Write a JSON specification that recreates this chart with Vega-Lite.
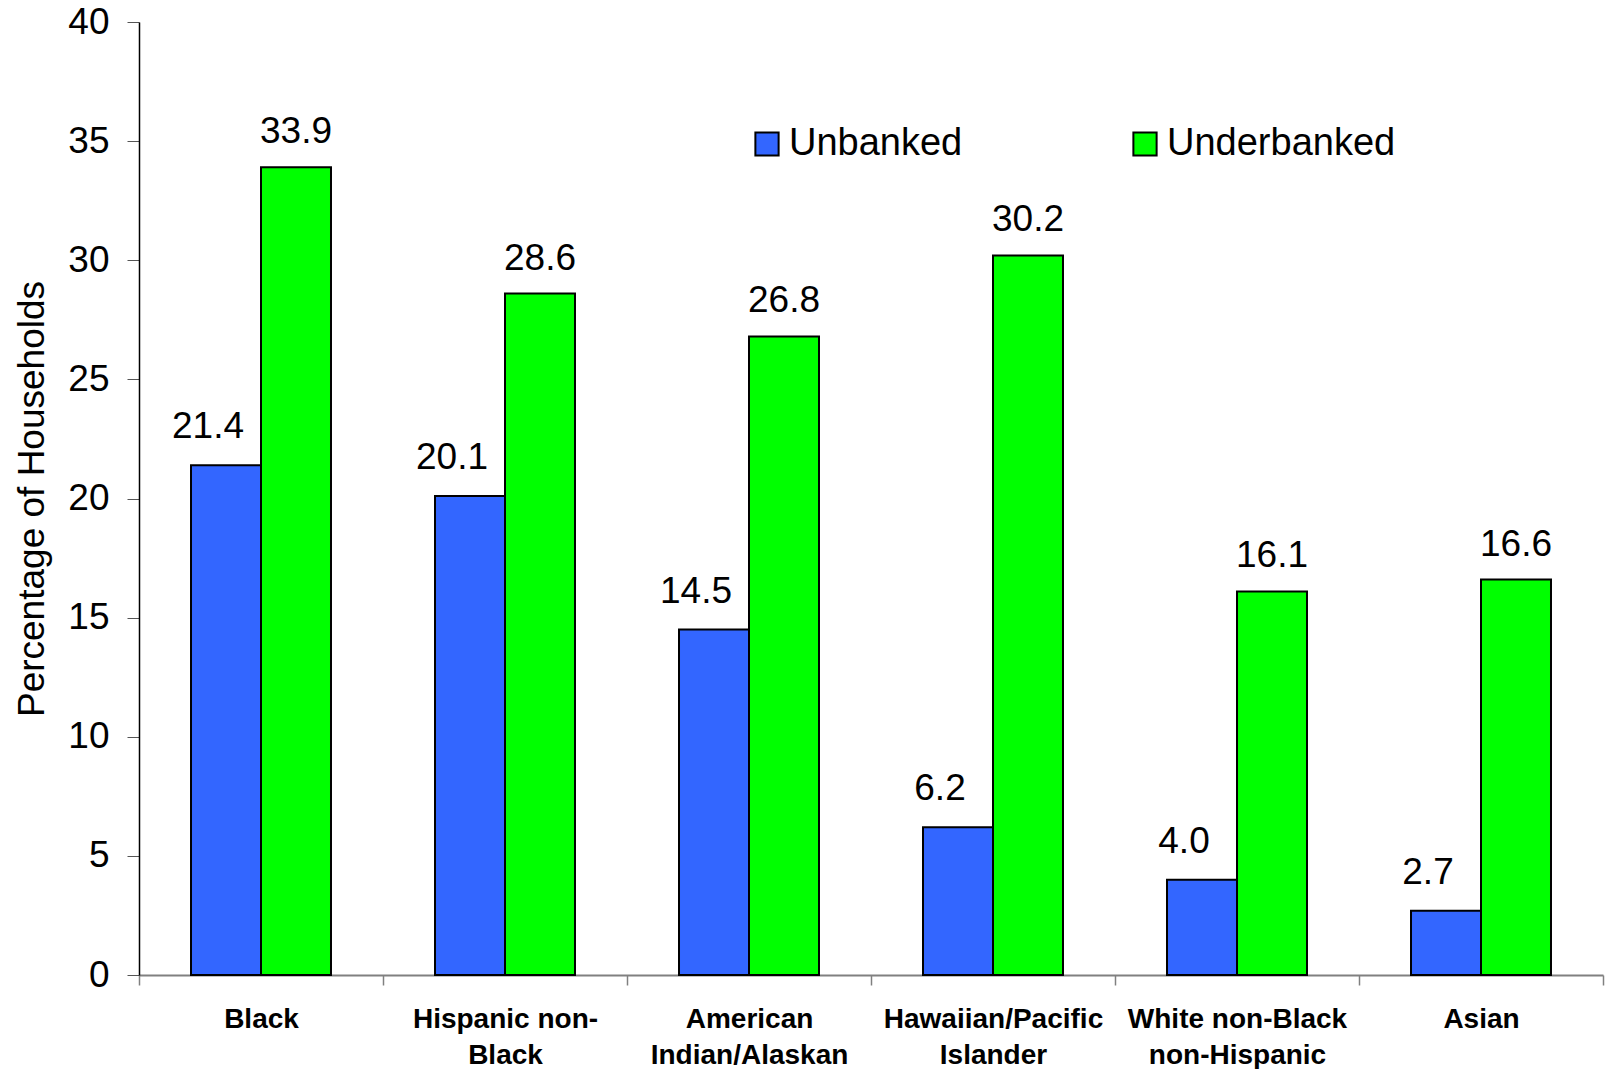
{
  "$schema": "https://vega.github.io/schema/vega-lite/v6.json",
  "width": 1464,
  "height": 953,
  "autosize": "none",
  "padding": {"left": 139, "top": 22, "right": 11, "bottom": 94},
  "background": "white",
  "config": {
    "view": {"stroke": null},
    "font": "Liberation Sans"
  },
  "data": {
    "values": [
      {"group": "Black", "type": "Unbanked", "value": 21.4},
      {"group": "Black", "type": "Underbanked", "value": 33.9},
      {"group": "Hispanic non-Black", "type": "Unbanked", "value": 20.1},
      {"group": "Hispanic non-Black", "type": "Underbanked", "value": 28.6},
      {"group": "American Indian/Alaskan", "type": "Unbanked", "value": 14.5},
      {"group": "American Indian/Alaskan", "type": "Underbanked", "value": 26.8},
      {"group": "Hawaiian/Pacific Islander", "type": "Unbanked", "value": 6.2},
      {"group": "Hawaiian/Pacific Islander", "type": "Underbanked", "value": 30.2},
      {"group": "White non-Black non-Hispanic", "type": "Unbanked", "value": 4.0},
      {"group": "White non-Black non-Hispanic", "type": "Underbanked", "value": 16.1},
      {"group": "Asian", "type": "Unbanked", "value": 2.7},
      {"group": "Asian", "type": "Underbanked", "value": 16.6}
    ]
  },
  "encoding": {
    "x": {
      "field": "group",
      "type": "nominal",
      "sort": null,
      "scale": {"paddingInner": 0, "paddingOuter": 0},
      "axis": {
        "title": null,
        "labelAngle": 0,
        "labelFont": "Liberation Sans",
        "labelFontSize": 28,
        "labelFontWeight": "bold",
        "labelColor": "black",
        "labelPadding": 20,
        "labelLineHeight": 36,
        "labelLimit": 300,
        "labelExpr": "datum.value == 'Hispanic non-Black' ? ['Hispanic non-', 'Black'] : datum.value == 'American Indian/Alaskan' ? ['American', 'Indian/Alaskan'] : datum.value == 'Hawaiian/Pacific Islander' ? ['Hawaiian/Pacific', 'Islander'] : datum.value == 'White non-Black non-Hispanic' ? ['White non-Black', 'non-Hispanic'] : datum.value",
        "tickBand": "extent",
        "tickSize": 10,
        "tickColor": "#808080",
        "tickWidth": 1.5,
        "domainColor": "#808080",
        "domainWidth": 2,
        "grid": false
      }
    },
    "xOffset": {"field": "type", "type": "nominal", "sort": ["Unbanked", "Underbanked"], "scale": {"paddingInner": 0, "paddingOuter": 0.743}},
    "y": {
      "field": "value",
      "type": "quantitative",
      "scale": {"domain": [0, 40], "nice": false, "zero": true},
      "axis": {
        "title": "Percentage of Households",
        "titleFont": "Liberation Sans",
        "titleFontSize": 37,
        "titleFontWeight": "normal",
        "titleColor": "black",
        "titlePadding": 16,
        "values": [0, 5, 10, 15, 20, 25, 30, 35, 40],
        "labelFont": "Liberation Sans",
        "labelFontSize": 37,
        "labelColor": "black",
        "labelPadding": 18,
        "tickSize": 12,
        "tickColor": "#555555",
        "domainColor": "black",
        "domainWidth": 1.5,
        "grid": false
      }
    }
  },
  "layer": [
    {
      "mark": {"type": "bar", "stroke": "black", "strokeWidth": 2},
      "encoding": {
        "color": {
          "field": "type",
          "type": "nominal",
          "scale": {"domain": ["Unbanked", "Underbanked"], "range": ["#3366FF", "#00FF00"]},
          "legend": {
            "title": null,
            "orient": "none",
            "direction": "horizontal",
            "legendX": 609,
            "legendY": 103,
            "padding": 0,
            "symbolType": "square",
            "symbolSize": 540,
            "symbolStrokeColor": "black",
            "symbolStrokeWidth": 2,
            "symbolOpacity": 1,
            "labelFont": "Liberation Sans",
            "labelFontSize": 38,
            "labelColor": "black",
            "labelOffset": 3,
            "labelLimit": 400,
            "columnPadding": 163
          }
        }
      }
    },
    {
      "transform": [{"filter": "datum.type == 'Underbanked'"}],
      "mark": {"type": "text", "baseline": "alphabetic", "dy": -24, "fontSize": 37, "font": "Liberation Sans", "color": "black"},
      "encoding": {
        "text": {"field": "value", "type": "quantitative", "format": ".1f"}
      }
    },
    {
      "transform": [{"filter": "datum.type == 'Unbanked'"}],
      "mark": {"type": "text", "baseline": "alphabetic", "dx": -18, "dy": -27, "fontSize": 37, "font": "Liberation Sans", "color": "black"},
      "encoding": {
        "text": {"field": "value", "type": "quantitative", "format": ".1f"}
      }
    }
  ]
}
